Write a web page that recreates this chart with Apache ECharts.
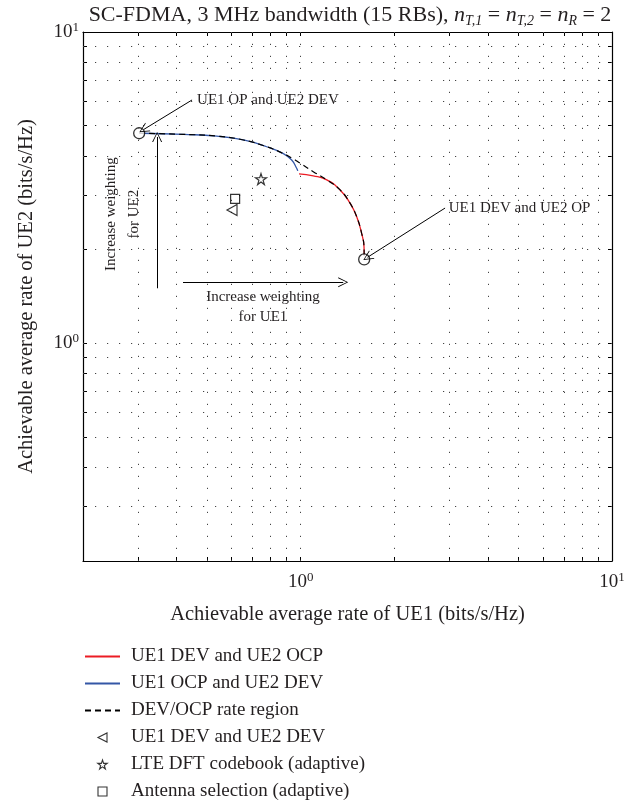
<!DOCTYPE html>
<html>
<head>
<meta charset="utf-8">
<script src="https://cdn.jsdelivr.net/npm/echarts@6/dist/echarts.min.js"></script>
<style>
  html, body { margin: 0; padding: 0; background: #fff; }
  #chart { width: 635px; height: 805px; }
</style>
</head>
<body>
<div id="chart"></div>
<script>
const FONT = '"Liberation Serif", "DejaVu Serif", serif';
const TXT = '#231f20';

// log grid / tick positions
const gridValues = [0.3, 0.4, 0.5, 0.6, 0.7, 0.8, 0.9, 1, 2, 3, 4, 5, 6, 7, 8, 9];
const tickValues = [0.2, 0.3, 0.4, 0.5, 0.6, 0.7, 0.8, 0.9, 1, 2, 3, 4, 5, 6, 7, 8, 9, 10];
const decadeTicks = [1, 10];

// UE1 DEV and UE2 OCP (red)
const devOcpCurve = [[0.988, 3.50], [1.098, 3.45], [1.213, 3.35], [1.339, 3.11], [1.441, 2.82],
  [1.514, 2.55], [1.571, 2.25], [1.598, 2.04], [1.600, 1.91]];
// UE1 OCP and UE2 DEV (blue)
const ocpDevCurve = [[0.309, 4.73], [0.42, 4.69], [0.538, 4.63], [0.655, 4.50], [0.778, 4.28],
  [0.88, 4.07], [0.936, 3.88], [0.971, 3.65], [0.979, 3.58]];
// DEV/OCP rate region (dashed)
const rateRegion = [[0.303, 4.73], [0.42, 4.69], [0.538, 4.63], [0.655, 4.50], [0.778, 4.28],
  [0.88, 4.07], [0.94, 3.93], [0.996, 3.79], [1.098, 3.56], [1.213, 3.35], [1.339, 3.11],
  [1.441, 2.82], [1.514, 2.55], [1.571, 2.25], [1.598, 2.04], [1.600, 1.86]];
const devDevPoint = [[0.602, 2.68]];
const dftPoint = [[0.746, 3.37]];
const antSelPoint = [[0.616, 2.91]];
const cornerPoints = [[0.303, 4.73], [1.6, 1.86]];

const seriesNames = ['UE1 DEV and UE2 OCP', 'UE1 OCP and UE2 DEV', 'DEV/OCP rate region',
  'UE1 DEV and UE2 DEV', 'LTE DFT codebook (adaptive)', 'Antenna selection (adaptive)'];

const STAR = 'path://M50,2 L61,36 L97,36 L68,57 L79,92 L50,71 L21,92 L32,57 L3,36 L39,36 Z';
const LEFT_TRI = 'path://M0,50 L100,0 L100,100 Z';
const SQUARE = 'path://M0,0 L100,0 L100,100 L0,100 Z';
const CHEVRON = 'path://M50,0 L100,100 L90,100 L50,16 L10,100 L0,100 Z';

const chart = echarts.init(document.getElementById('chart'));

const decadeLabel = {
  show: true,
  customValues: decadeTicks,
  margin: 10,
  formatter: v => '{b|10}{s|' + Math.round(Math.log10(v)) + '}',
  rich: {
    b: { fontFamily: FONT, fontSize: 19, color: TXT, lineHeight: 22 },
    s: { fontFamily: FONT, fontSize: 13, color: TXT, lineHeight: 13, verticalAlign: 'top' }
  }
};

function logAxis(pos, withLabels) {
  return {
    type: 'log',
    logBase: 10,
    min: 0.2,
    max: 10,
    position: pos,
    axisLine: { show: true, onZero: false, lineStyle: { color: '#000', width: 1.2 } },
    axisTick: { show: true, inside: true, length: 4, customValues: tickValues, lineStyle: { color: '#000', width: 1 } },
    axisLabel: withLabels ? decadeLabel : { show: false },
    splitLine: { show: false },
    minorTick: { show: false }
  };
}

const xMain = Object.assign(logAxis('bottom', true), {
  name: 'Achievable average rate of UE1 (bits/s/Hz)',
  nameLocation: 'middle',
  nameGap: 43,
  nameTextStyle: { fontFamily: FONT, fontSize: 20.5, color: TXT }
});
const yMain = Object.assign(logAxis('left', true), {
  name: 'Achievable average rate of UE2 (bits/s/Hz)',
  nameLocation: 'middle',
  nameGap: 46,
  nameTextStyle: { fontFamily: FONT, fontSize: 20.5, color: TXT }
});
yMain.axisLabel = Object.assign({}, decadeLabel, { margin: 4 });

const dotted = { type: [1.2, 10.8], color: '#444', width: 1 };
const arrowLine = { color: '#000', width: 1, type: 'solid' };
const lineOnlyIcon = { opacity: 0 };
const openIcon = { color: '#fff', borderColor: '#000', borderWidth: 1.1 };

chart.setOption({
  animation: false,
  backgroundColor: '#fff',
  textStyle: { fontFamily: FONT },
  grid: { left: 83, right: 23, top: 32, bottom: 244 },
  xAxis: [xMain, logAxis('top', false)],
  yAxis: [yMain, logAxis('right', false)],
  legend: {
    orient: 'vertical',
    left: 84,
    top: 647,
    padding: 0,
    itemWidth: 35,
    itemHeight: 9,
    itemGap: 8,
    data: [
      { name: seriesNames[0], itemStyle: lineOnlyIcon },
      { name: seriesNames[1], itemStyle: lineOnlyIcon },
      { name: seriesNames[2], itemStyle: lineOnlyIcon },
      { name: seriesNames[3], itemStyle: openIcon },
      { name: seriesNames[4], itemStyle: openIcon },
      { name: seriesNames[5], itemStyle: openIcon }
    ],
    textStyle: { fontFamily: FONT, fontSize: 19, color: TXT, lineHeight: 19, padding: [0, 0, 0, 6] }
  },
  series: [
    {
      name: seriesNames[0], type: 'line', data: devOcpCurve, smooth: true, symbol: 'none',
      lineStyle: { color: '#ec1c24', width: 1.3 }, itemStyle: { color: '#ec1c24' }, z: 3
    },
    {
      name: seriesNames[1], type: 'line', data: ocpDevCurve, smooth: true, symbol: 'none',
      lineStyle: { color: '#3457a6', width: 1.3 }, itemStyle: { color: '#3457a6' }, z: 3
    },
    {
      name: seriesNames[2], type: 'line', data: rateRegion, smooth: true, symbol: 'none',
      lineStyle: { color: '#000', width: 1.2, type: [6, 4] }, itemStyle: { color: '#000' }, z: 4,
      markLine: {
        silent: true, symbol: 'none', label: { show: false }, lineStyle: dotted, z: 1,
        data: gridValues.map(v => ({ xAxis: v })).concat(gridValues.map(v => ({ yAxis: v })))
      }
    },
    {
      name: seriesNames[3], type: 'scatter', data: devDevPoint, symbol: LEFT_TRI, symbolSize: [10, 11],
      itemStyle: { color: 'none', borderColor: '#000', borderWidth: 1.2 }, z: 5
    },
    {
      name: seriesNames[4], type: 'scatter', data: dftPoint, symbol: STAR, symbolSize: 11,
      itemStyle: { color: 'none', borderColor: '#000', borderWidth: 1.2 }, z: 5
    },
    {
      name: seriesNames[5], type: 'scatter', data: antSelPoint, symbol: SQUARE, symbolSize: 9,
      itemStyle: { color: 'none', borderColor: '#000', borderWidth: 1.2 }, z: 5
    },
    {
      type: 'scatter', data: cornerPoints, symbol: 'circle', symbolSize: 11,
      itemStyle: { color: '#fff', borderColor: '#000', borderWidth: 1.3 }, z: 6,
      markLine: {
        silent: true, symbol: ['none', CHEVRON], symbolSize: 10, label: { show: false },
        lineStyle: arrowLine, z: 7,
        data: [
          [{ coord: [0.448, 6.05] }, { coord: [0.313, 4.86] }],
          [{ coord: [2.91, 2.72] }, { coord: [1.64, 1.89] }],
          [{ coord: [0.346, 1.503] }, { coord: [0.346, 4.6] }],
          [{ coord: [0.419, 1.571] }, { coord: [1.37, 1.571] }]
        ]
      }
    }
  ]
});

// annotation texts, placed through the axes
const notes = [
  { text: 'UE1 OP and UE2 DEV', at: [0.465, 6.05], align: 'left', rotate: 0, lh: 20 },
  { text: 'UE1 DEV and UE2 OP', at: [2.99, 2.72], align: 'left', rotate: 0, lh: 20 },
  { text: 'Increase weighting\nfor UE1', at: [0.757, 1.306], align: 'center', rotate: 0, lh: 20 },
  { text: 'Increase weighting\nfor UE2', at: [0.267, 2.60], align: 'center', rotate: 90, lh: 23 }
];

const graphics = notes.map(n => {
  const p = chart.convertToPixel({ seriesIndex: 0 }, n.at);
  return {
    type: 'text', x: p[0], y: p[1], rotation: n.rotate * Math.PI / 180, z: 10,
    style: {
      text: n.text, fill: TXT, fontFamily: FONT, fontSize: 15, lineHeight: n.lh,
      align: n.align, verticalAlign: 'middle'
    }
  };
});

graphics.push({
  type: 'text', x: 350, y: 15, z: 10,
  style: {
    text: '{a|SC-FDMA, 3 MHz bandwidth (15 RBs), }{i|n}{s|T,1}{a| = }{i|n}{s|T,2}{a| = }{i|n}{s|R}{a| = 2}',
    align: 'center', verticalAlign: 'middle',
    rich: {
      a: { fontFamily: FONT, fontSize: 22, fill: TXT, lineHeight: 26 },
      i: { fontFamily: FONT, fontSize: 22, fill: TXT, fontStyle: 'italic', lineHeight: 26 },
      s: { fontFamily: FONT, fontSize: 14, fill: TXT, fontStyle: 'italic', lineHeight: 14, verticalAlign: 'bottom' }
    }
  }
});

chart.setOption({ graphic: graphics });
</script>
</body>
</html>
